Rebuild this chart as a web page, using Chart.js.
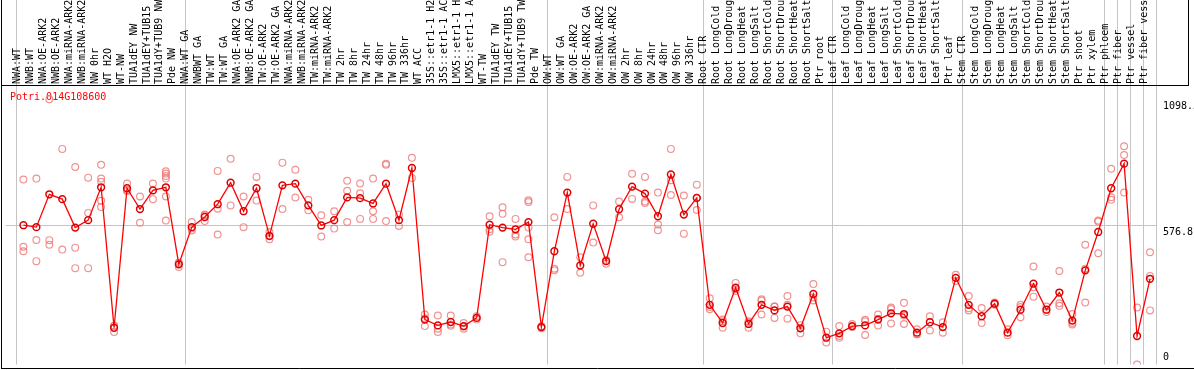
<!DOCTYPE html>
<html>
<head>
<meta charset="utf-8">
<script src="https://cdn.jsdelivr.net/npm/chart.js@4/dist/chart.umd.min.js"></script>
<style>
html, body { margin: 0; padding: 0; background: #fff; }
#wrap { width: 1194px; height: 370px; }
</style>
</head>
<body>
<div id="wrap"><canvas id="expr" width="1194" height="370"></canvas></div>
<script>
var geneName = "Potri.014G108600";

var categories = [
    "NWA:WT", "NWB:WT", "NWA:OE-ARK2", "NWB:OE-ARK2", "NWA:miRNA-ARK2", "NWB:miRNA-ARK2", "NW 0hr",
    "WT H2O", "WT-NW", "TUA1dEY NW", "TUA1dEY+TUB15 NW", "TUA1dY+TUB9 NW", "Pde NW",
    "NWA:WT GA", "NWBWT GA", "TW:WT", "TW:WT GA", "NWA:OE-ARK2 GA", "NWB:OE-ARK2 GA", "TW:OE-ARK2",
    "TW:OE-ARK2 GA", "NWA:miRNA-ARK2", "NWB:miRNA-ARK2", "TW:miRNA-ARK2", "TW:miRNA-ARK2", "TW 2hr",
    "TW 8hr", "TW 24hr", "TW 48hr", "TW 96hr", "TW 336hr", "WT ACC", "35S::etr1-1 H2O", "35S::etr1-1 ACC",
    "LMX5::etr1-1 H2O", "LMX5::etr1-1 ACC", "WT-TW", "TUA1dEY TW", "TUA1dEY+TUB15 TW", "TUA1dY+TUB9 TW", "Pde TW",
    "OW:WT", "OW:WT GA", "OW:OE-ARK2", "OW:OE-ARK2 GA", "OW:miRNA-ARK2", "OW:miRNA-ARK2", "OW 2hr",
    "OW 8hr", "OW 24hr", "OW 48hr", "OW 96hr", "OW 336hr",
    "Root CTR", "Root LongCold", "Root LongDrought", "Root LongHeat", "Root LongSalt", "Root ShortCold",
    "Root ShortDrought", "Root ShortHeat", "Root ShortSalt", "Ptr root",
    "Leaf CTR", "Leaf LongCold", "Leaf LongDrought", "Leaf LongHeat", "Leaf LongSalt", "Leaf ShortCold",
    "Leaf ShortDrought", "Leaf ShortHeat", "Leaf ShortSalt", "Ptr leaf",
    "Stem CTR", "Stem LongCold", "Stem LongDrought", "Stem LongHeat", "Stem LongSalt", "Stem ShortCold",
    "Stem ShortDrought", "Stem ShortHeat", "Stem ShortSalt", "Ptr shoot", "Ptr xylem",
    "Ptr phloem", "Ptr fiber", "Ptr vessel", "Ptr fiber vessel"
];

// first category of each group (a grid line is drawn before it)
var groupStarts = [0, 13, 41, 53, 63, 73, 84, 85, 86, 87];

var meanValues = [
    577, 569, 705, 685, 567, 598, 734, 152, 730, 644, 721, 734, 415,
    569, 611, 664, 753, 635, 730, 533, 742, 749, 659, 576, 598, 692, 689, 667, 749, 598, 814,
    186, 162, 176, 159, 193, 579, 567, 560, 590, 155,
    469, 712, 410, 583, 428, 643, 737, 708, 614, 787, 621, 690,
    247, 172, 318, 168, 247, 224, 240, 150, 292, 111,
    129, 159, 162, 186, 212, 209, 132, 175, 155, 359,
    247, 200, 252, 132, 227, 335, 227, 298, 182, 390, 549,
    730, 832, 118, 355
];

var replicateValues = [
    [766, 488, 469], [770, 516, 428], [1098.5, 515, 496], [893, 476], [818, 484, 399],
    [774, 628, 399], [827, 770, 757, 678, 652], [159, 135, 160], [750, 719, 722], [696, 587],
    [750, 685], [800, 791, 781, 770, 696, 596], [420, 404, 421],
    [590, 563, 555], [621, 594, 618], [802, 645, 538], [852, 659], [696, 569], [777, 679],
    [549, 519, 531], [836, 644], [807, 692], [682, 639], [618, 530], [635, 563], [761, 720, 590],
    [750, 709, 603], [770, 635, 603], [832, 827, 594], [621, 574], [856, 773], [207, 159, 192],
    [203, 135, 148], [203, 166, 160], [172, 148, 157], [200, 186], [614, 560, 550],
    [651, 624, 424], [603, 539, 530], [680, 673, 567, 519, 444], [158, 150],
    [610, 397, 390], [777, 644], [444, 380], [659, 505], [433, 417], [675, 610], [790, 686],
    [777, 675, 669], [712, 580, 556], [893, 763, 702], [700, 542], [745, 690, 640],
    [274, 229, 238], [179, 152, 186], [338, 304, 312], [179, 152, 174], [270, 207, 265],
    [240, 193, 240], [284, 190, 247], [163, 129], [333, 265, 278], [136, 91],
    [159, 111, 118], [168, 155], [179, 122, 185], [207, 162, 190], [236, 170, 230],
    [256, 168, 203], [146, 125, 125], [200, 141], [175, 132], [372, 346],
    [284, 224, 233], [234, 172], [257, 248, 251], [146, 121], [247, 196, 238], [406, 281, 320],
    [240, 217], [387, 254, 243], [209, 166, 172], [496, 397, 257], [596, 592, 461],
    [811, 693, 682], [904, 868, 712], [236, 0], [465, 367, 224]
];

var yTickValues = [0, 576.8, 1098.5];
var yTickLabels = ["0", "576.8", "1098.5"];
var yMax = 1153.6;

var gridColor = "#c4c4c4";
var monoFont = '"DejaVu Sans Mono", "Liberation Mono", monospace';

var repPoints = [];
replicateValues.forEach(function (reps, i) {
    reps.forEach(function (v) {
        repPoints.push({ x: i, y: v });
    });
});
var meanPoints = meanValues.map(function (v, i) {
    return { x: i, y: v };
});

var frameAndText = {
    id: 'frameAndText',
    beforeDatasetsDraw: function (chart) {
        var ctx = chart.ctx;
        ctx.save();
        ctx.font = '10px ' + monoFont;
        ctx.fillStyle = '#ff0000';
        ctx.textBaseline = 'middle';
        ctx.textAlign = 'left';
        ctx.fillText(geneName, 10, 97);
        ctx.restore();
    },
    afterDraw: function (chart) {
        var ctx = chart.ctx,
            area = chart.chartArea,
            ys = chart.scales.y;
        ctx.save();
        ctx.strokeStyle = '#000';
        ctx.lineWidth = 1;
        ctx.beginPath();
        ctx.moveTo(1.5, 0); ctx.lineTo(1.5, 369);
        ctx.moveTo(1, 85.5); ctx.lineTo(1189, 85.5);
        ctx.moveTo(1188.5, 0); ctx.lineTo(1188.5, 86);
        ctx.moveTo(1, 368.5); ctx.lineTo(1194, 368.5);
        ctx.stroke();

        ctx.font = '10px ' + monoFont;
        ctx.fillStyle = '#000';
        ctx.textBaseline = 'top';
        ctx.textAlign = 'left';
        yTickValues.forEach(function (v, i) {
            var py = Math.min(ys.getPixelForValue(v) + 2, area.bottom - 12);
            ctx.fillText(yTickLabels[i], area.right + 6, py);
        });
        ctx.restore();
    }
};

var config = {
    type: 'scatter',
    data: {
        datasets: [{
            label: 'mean',
            data: meanPoints,
            showLine: true,
            borderColor: '#ff0000',
            borderWidth: 1.3,
            pointRadius: 3.4,
            pointBorderWidth: 1.5,
            pointBorderColor: '#dd0000',
            pointBackgroundColor: 'rgba(0,0,0,0)',
            order: 0
        }, {
            label: 'replicates',
            data: repPoints,
            showLine: false,
            pointRadius: 3.4,
            pointBorderWidth: 1.2,
            pointBorderColor: 'rgba(236,120,120,0.8)',
            pointBackgroundColor: 'rgba(0,0,0,0)',
            order: 1
        }]
    },
    options: {
        responsive: false,
        animation: false,
        devicePixelRatio: 1,
        layout: {
            padding: { left: 1, top: 0, right: 0, bottom: 1 }
        },
        plugins: {
            legend: { display: false },
            tooltip: { enabled: false },
            title: { display: false }
        },
        scales: {
            x: {
                type: 'linear',
                position: 'top',
                min: -18 / 13,
                max: 87.54,
                bounds: 'data',
                afterBuildTicks: function (s) {
                    s.ticks = categories.map(function (c, i) { return { value: i }; });
                },
                afterFit: function (s) { s.height = 86; },
                ticks: {
                    autoSkip: false,
                    minRotation: 90,
                    maxRotation: 90,
                    padding: -84,
                    labelOffset: 6,
                    color: '#000',
                    font: { family: monoFont, size: 10 },
                    callback: function (v, i) { return categories[i]; }
                },
                grid: {
                    offset: true,
                    drawTicks: true,
                    tickLength: 86,
                    lineWidth: 1,
                    color: function (c) {
                        if (c.type !== 'tick') return gridColor;
                        return groupStarts.indexOf(c.index) >= 0 ? gridColor : 'rgba(0,0,0,0)';
                    }
                },
                border: { display: false }
            },
            y: {
                type: 'linear',
                position: 'right',
                min: 0,
                max: yMax,
                afterBuildTicks: function (s) {
                    s.ticks = [{ value: yTickValues[1] }];
                },
                afterFit: function (s) { s.width = 37; },
                ticks: { display: false },
                grid: { color: gridColor, lineWidth: 1, drawTicks: false },
                border: { display: false }
            }
        }
    },
    plugins: [frameAndText]
};

window.onload = function () {
    var ctx = document.getElementById("expr").getContext("2d");
    window.exprChart = new Chart(ctx, config);
};
</script>
</body>
</html>
